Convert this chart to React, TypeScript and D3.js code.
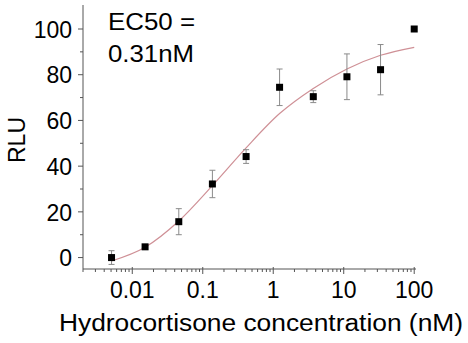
import React from 'react'
import { scaleLog, scaleLinear, line, curveMonotoneX, range } from 'd3'

const WIDTH = 468
const HEIGHT = 343

// hydrocortisone dose series (nM), 3-fold dilutions
const concentrations = [0.00508, 0.0152, 0.0457, 0.137, 0.412, 1.23, 3.7, 11.1, 33.3, 100]
const rluMean = [0, 4.7, 15.7, 32.2, 44.2, 74.5, 70.4, 79.1, 82.2, 100]
const rluErr = [3, 1, 5.7, 6, 3, 8, 2.6, 10, 11, 0]

// fitted curve at the same doses
const fitValues = [-1.5, 4.5, 16, 31.5, 48, 63, 74, 82.5, 88.5, 92]

const yTicks = [0, 20, 40, 60, 80, 100]
const yMinorTicks = [10, 30, 50, 70, 90]
const xTicks = [0.01, 0.1, 1, 10, 100]
const xTickLabels = ['0.01', '0.1', '1', '10', '100']

const FONT = 'Liberation Sans, Arial, sans-serif'
const FS = 23

const App = () => {
  const x = scaleLog().domain([0.002, 106]).range([83, 416])
  const y = scaleLinear().domain([-5, 110.5]).range([269, 5])

  const xMinor: number[] = []
  ;[0.001, 0.01, 0.1, 1, 10, 100].forEach(d => {
    range(2, 10).forEach(m => {
      const v = d * m
      if (v >= 0.002 && v <= 106) xMinor.push(v)
    })
  })

  const fitLine = line<number>()
    .x((_, i) => x(concentrations[i]))
    .y(d => y(d))
    .curve(curveMonotoneX)

  const axisColor = '#555'

  return (
    <svg width={WIDTH} height={HEIGHT} style={{ position: 'absolute', left: 0, top: 0, background: 'white' }}
      fontFamily={FONT}>
      {/* y axis */}
      <line x1={83} x2={83} y1={y(110.5)} y2={y(-5)} stroke={axisColor} />
      {yTicks.map(t => (
        <g key={t}>
          <line x1={78} x2={83} y1={y(t)} y2={y(t)} stroke={axisColor} />
          <text x={72} y={y(t)} dy="0.38em" textAnchor="end" fontSize={FS} fill="#000">{t}</text>
        </g>
      ))}
      {yMinorTicks.map(t => (
        <line key={t} x1={80} x2={83} y1={y(t)} y2={y(t)} stroke={axisColor} />
      ))}

      {/* x axis */}
      <line x1={83} x2={416} y1={269} y2={269} stroke={axisColor} />
      {xTicks.map((t, i) => (
        <g key={t}>
          <line x1={x(t)} x2={x(t)} y1={267} y2={274} stroke={axisColor} />
          <text x={x(t)} y={298} textAnchor="middle" fontSize={FS} fill="#000">{xTickLabels[i]}</text>
        </g>
      ))}
      {xMinor.map(t => (
        <line key={t} x1={x(t)} x2={x(t)} y1={269} y2={272} stroke={axisColor} />
      ))}

      {/* fitted curve */}
      <path d={fitLine(fitValues) || ''} fill="none" stroke="#cf9096" strokeWidth={1.2} />

      {/* error bars */}
      {concentrations.map((c, i) => rluErr[i] > 0 && (
        <g key={c} stroke="#8a8a8a" strokeWidth={1}>
          <line x1={x(c)} x2={x(c)} y1={y(rluMean[i] + rluErr[i])} y2={y(rluMean[i] - rluErr[i])} />
          <line x1={x(c) - 3} x2={x(c) + 3} y1={y(rluMean[i] + rluErr[i])} y2={y(rluMean[i] + rluErr[i])} />
          <line x1={x(c) - 3} x2={x(c) + 3} y1={y(rluMean[i] - rluErr[i])} y2={y(rluMean[i] - rluErr[i])} />
        </g>
      ))}

      {/* points */}
      {concentrations.map((c, i) => (
        <rect key={c} x={x(c) - 3.5} y={y(rluMean[i]) - 3.5} width={7} height={7} fill="#000" />
      ))}

      {/* annotation */}
      <text x={108} y={30} fontSize={FS} fill="#000" textLength={87} lengthAdjust="spacingAndGlyphs">EC50 =</text>
      <text x={108} y={62} fontSize={FS} fill="#000" textLength={86} lengthAdjust="spacingAndGlyphs">0.31nM</text>

      {/* axis titles */}
      <text transform="translate(25, 140) rotate(-90)" textAnchor="middle" fontSize={FS} fill="#000">RLU</text>
      <text x={59} y={331} fontSize={FS} fill="#000" textLength={404} lengthAdjust="spacingAndGlyphs">
        Hydrocortisone concentration (nM)
      </text>
    </svg>
  )
}

export default App
